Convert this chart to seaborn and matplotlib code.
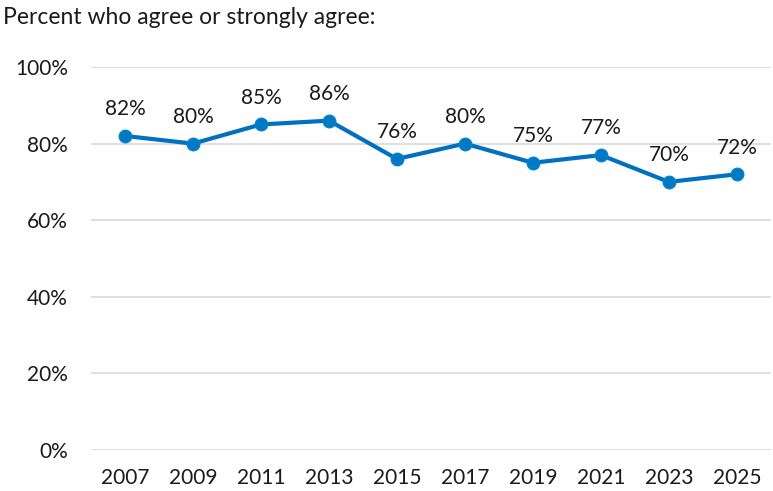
import matplotlib
matplotlib.use("Agg")
import matplotlib.pyplot as plt
import seaborn as sns
import pandas as pd

years = ["2007", "2009", "2011", "2013", "2015", "2017", "2019", "2021", "2023", "2025"]
agree_pct = [82, 80, 85, 86, 76, 80, 75, 77, 70, 72]
y_ticks = [0, 20, 40, 60, 80, 100]

sns.set_theme(style="white")
plt.rcParams["font.family"] = ["Lato", "DejaVu Sans"]

df = pd.DataFrame({"pos": range(len(years)), "year": years, "pct": agree_pct})

fig = plt.figure(figsize=(7.73, 4.91), dpi=100)
ax = fig.add_axes([0.1177, 0.0835, 0.8795, 0.78])

text_color = "#1a1a1a"
line_color = "#0070C0"
sns.lineplot(data=df, x="pos", y="pct", ax=ax, color=line_color, linewidth=3,
             marker="o", markersize=9, markerfacecolor="#0079C4",
             markeredgecolor="#0086C8", markeredgewidth=1, zorder=3)

for p, v in zip(df["pos"], df["pct"]):
    ax.annotate(f"{v}%", (p, v), xytext=(0, 12), textcoords="offset points",
                ha="center", va="bottom", fontsize=15, color=text_color)

ax.set_xlim(-0.5, len(years) - 0.5)
ax.set_ylim(0, 100)
ax.set_yticks(y_ticks)
ax.set_yticklabels([f"{t}%" for t in y_ticks], fontsize=15, color=text_color)
ax.set_xticks(df["pos"])
ax.set_xticklabels(years, fontsize=15, color=text_color)
ax.tick_params(axis="y", pad=16.5, length=0)
ax.tick_params(axis="x", pad=13, length=0)
ax.grid(axis="y", color="#d9d9d9", linewidth=1.2)
ax.set_axisbelow(True)
for s in ax.spines.values():
    s.set_visible(False)
ax.set_xlabel("")
ax.set_ylabel("")

fig.text(0.004, 0.965, "Percent who agree or strongly agree:", ha="left", va="center",
         fontsize=16.5, color=text_color)

fig.savefig("out.png", dpi=100)
